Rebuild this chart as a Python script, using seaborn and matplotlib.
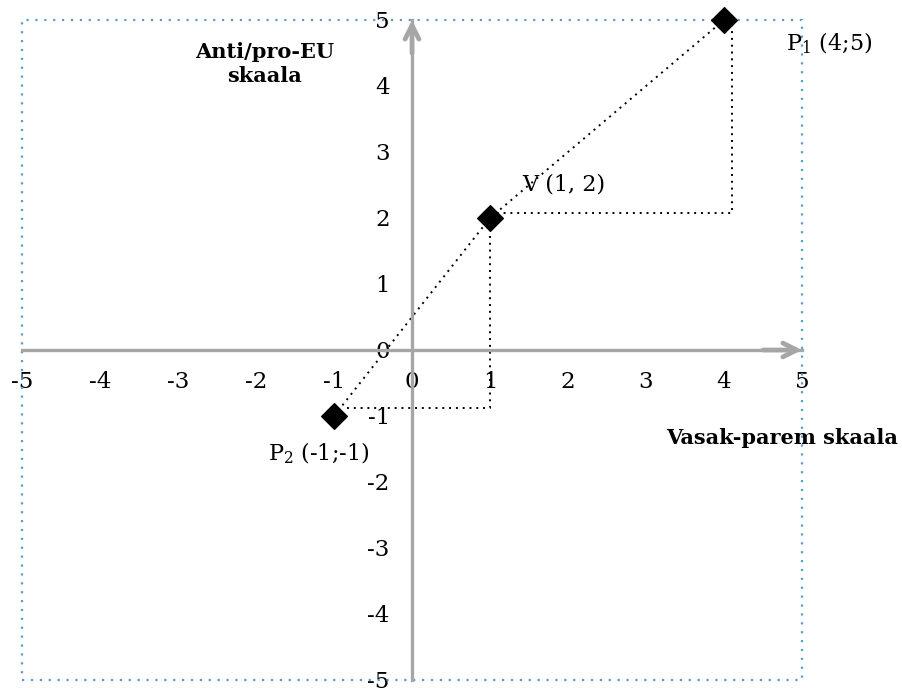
import matplotlib
matplotlib.use("Agg")
import matplotlib.pyplot as plt
from matplotlib.patches import Rectangle
import seaborn as sns

sns.set_style("white")
plt.rcParams["font.family"] = ["DejaVu Serif"]
plt.rcParams["mathtext.fontset"] = "dejavuserif"
plt.rcParams["text.color"] = "black"
plt.rcParams["xtick.labelcolor"] = "black"
plt.rcParams["ytick.labelcolor"] = "black"

# points: P2, V, P1
point_names = ["P$_2$ (-1;-1)", "V (1, 2)", "P$_1$ (4;5)"]
point_x = [-1, 1, 4]
point_y = [-1, 2, 5]

# dotted guide lines (as drawn, slightly off the grid)
guide_upper_x = [1.0, 4.1, 4.1]
guide_upper_y = [2.07, 2.07, 5.0]
guide_lower_x = [-0.83, 1.0, 1.0]
guide_lower_y = [-0.88, -0.88, 2.0]

ticks = [-5, -4, -3, -2, -1, 0, 1, 2, 3, 4, 5]

gray = "#a6a6a6"

fig = plt.figure(figsize=(9.03, 6.88), dpi=100)
ax = fig.add_axes([22 / 903, 1 - 680 / 688, 780 / 903, 660 / 688])
ax.set_xlim(-5, 5)
ax.set_ylim(-5, 5)

# axes through the origin
for side in ["top", "right"]:
    ax.spines[side].set_visible(False)
for side in ["left", "bottom"]:
    ax.spines[side].set_position(("data", 0))
    ax.spines[side].set_color(gray)
    ax.spines[side].set_linewidth(2.4)
ax.set_xticks(ticks)
ax.set_yticks(ticks)
ax.set_xticklabels([str(t) for t in ticks])
ax.set_yticklabels([str(t) for t in ticks])
ax.tick_params(axis="x", direction="out", length=5, width=1.5, color=gray,
               pad=10, labelsize=16.5)
ax.tick_params(axis="y", direction="out", length=5, width=1.5, color=gray,
               pad=11, labelsize=16.5)

# arrow heads
arrow = dict(arrowstyle="->,head_length=1.0,head_width=0.5", color=gray,
             lw=3.4, shrinkA=0, shrinkB=0, capstyle="round", joinstyle="round")
ax.annotate("", xy=(5, 0), xytext=(4.5, 0), arrowprops=arrow, annotation_clip=False)
ax.annotate("", xy=(0, 5), xytext=(0, 4.5), arrowprops=arrow, annotation_clip=False)

# dotted border of the plot area
ax.add_patch(Rectangle((0, 0), 1, 1, transform=ax.transAxes, fill=False,
                       edgecolor="#5b9bd5", linestyle=(0, (1, 3)), lw=1.6,
                       clip_on=False))

dots = (0, (1, 2.5))
for gx, gy in [(point_x, point_y), (guide_upper_x, guide_upper_y),
               (guide_lower_x, guide_lower_y)]:
    sns.lineplot(x=gx, y=gy, sort=False, estimator=None, color="black",
                 lw=1.4, linestyle=dots, ax=ax)
sns.scatterplot(x=point_x, y=point_y, marker="D", s=170, color="black",
                edgecolor="black", zorder=5, clip_on=False, ax=ax)

label_pos = [(-1.85, -1.57), (1.41, 2.5), (4.8, 4.64)]
for name, (lx, ly) in zip(point_names, label_pos):
    ax.text(lx, ly, name, fontsize=16, ha="left", va="center")

ax.text(-1.89, 4.33, "Anti/pro-EU\nskaala", fontsize=15, fontweight="bold",
        ha="center", va="center", linespacing=1.25)
ax.text(898 / 903, 1 - 438 / 688, "Vasak-parem skaala", fontsize=15,
        fontweight="bold", ha="right", va="center", transform=fig.transFigure)

fig.savefig("out.png", dpi=100)
plt.close(fig)
